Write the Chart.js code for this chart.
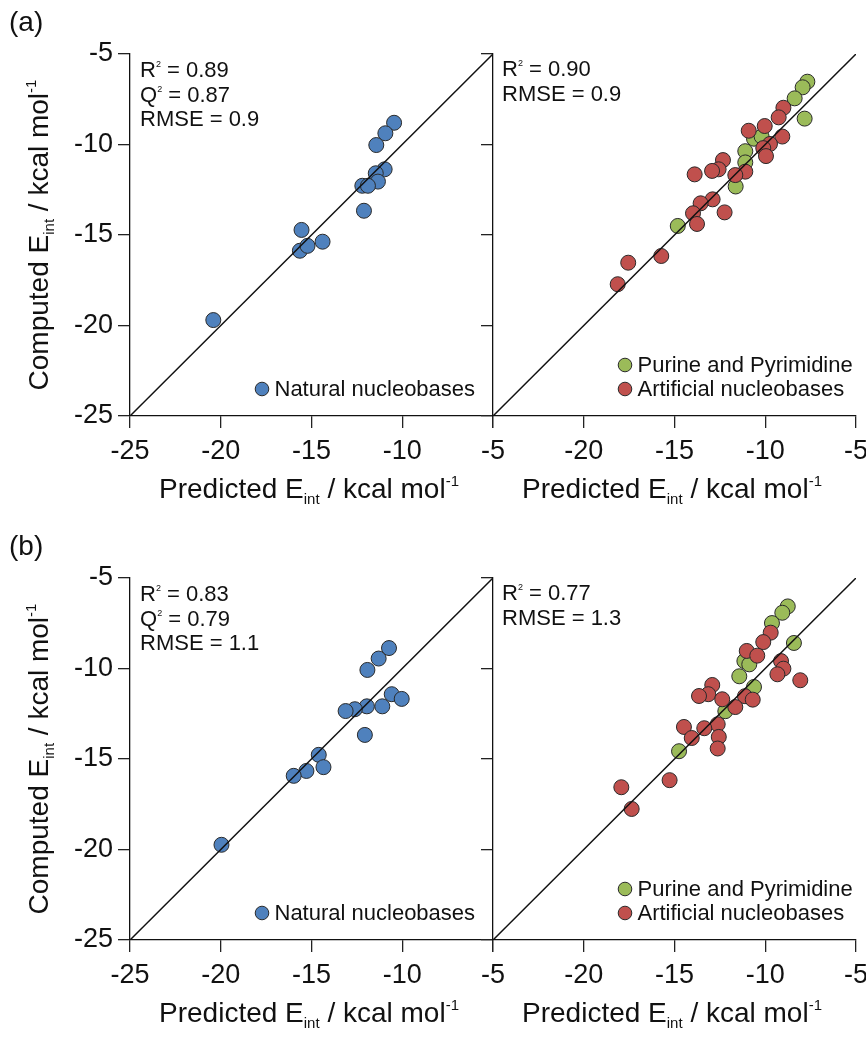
<!DOCTYPE html>
<html>
<head>
<meta charset="utf-8">
<script src="https://cdn.jsdelivr.net/npm/chart.js@4.4.0/dist/chart.umd.min.js"></script>
<style>
  html, body { margin: 0; padding: 0; background: #fff; }
  body { width: 866px; height: 1043px; position: relative; overflow: hidden;
         font-family: "Liberation Sans", Arial, sans-serif; color: #111; }
  canvas { position: absolute; left: 0; }
  .panel-tag { position: absolute; font-size: 28px; line-height: 32px; }
  .ytitle { position: absolute; font-size: 28px; line-height: 32px; white-space: nowrap;
            transform: translate(-50%, -50%) rotate(-90deg); }
  .xtitle { position: absolute; font-size: 28px; line-height: 32px; white-space: nowrap;
            transform: translateX(-50%); }
  .stats { position: absolute; font-size: 22px; line-height: 24.5px; white-space: nowrap; }
  .stats sup { font-size: 9px; line-height: 0; vertical-align: baseline; position: relative; top: -10px; }
  .ttl-sub { font-size: 15px; line-height: 0; vertical-align: baseline; position: relative; top: 6px; }
  .ttl-sup { font-size: 15px; line-height: 0; vertical-align: baseline; position: relative; top: -12px; }
</style>
</head>
<body>
<canvas id="aLeft" width="866" height="524" style="top:0"></canvas>
<canvas id="aRight" width="866" height="524" style="top:0"></canvas>
<canvas id="bLeft" width="866" height="524" style="top:524px"></canvas>
<canvas id="bRight" width="866" height="524" style="top:524px"></canvas>
<div id="texts"></div>
<script>
  // axis ticks, shared by all four panels
  var tickValues = [-25, -20, -15, -10, -5];

  // (a) natural nucleobases: predicted (x) vs computed (y)
  var aNatPred = [-10.45, -10.93, -11.43, -10.97, -11.46, -11.34, -12.20, -11.89, -12.11, -15.55, -15.64, -15.22, -14.39, -20.41];
  var aNatComp = [-8.80, -9.38, -10.03, -11.37, -11.59, -12.05, -12.28, -12.28, -13.66, -14.72, -15.87, -15.60, -15.37, -19.70];

  // (a) purine and pyrimidine
  var aPurPred = [-7.68, -7.94, -8.38, -7.83, -10.62, -10.20, -11.10, -11.10, -11.63, -14.82];
  var aPurComp = [-6.53, -6.84, -7.45, -8.57, -9.68, -9.56, -10.37, -10.99, -12.32, -14.50];

  // (a) artificial nucleobases
  var aArtPred = [-9.00, -9.26, -10.03, -10.91, -9.06, -9.74, -10.11, -9.96, -12.33, -12.57, -12.93, -13.89, -11.10, -11.65, -12.90, -13.56, -12.24, -13.98, -13.76, -15.73, -17.55, -18.13];
  var aArtComp = [-7.97, -8.50, -8.98, -9.24, -9.56, -9.97, -10.20, -10.64, -10.86, -11.37, -11.46, -11.65, -11.50, -11.69, -13.03, -13.25, -13.75, -13.80, -14.39, -16.16, -16.53, -17.72];

  // (b) natural nucleobases
  var bNatPred = [-10.73, -11.30, -11.92, -10.58, -10.03, -11.10, -11.95, -12.61, -13.12, -12.06, -14.60, -14.34, -15.28, -15.98, -19.96];
  var bNatComp = [-8.87, -9.45, -10.08, -11.42, -11.68, -12.09, -12.09, -12.25, -12.35, -13.67, -14.77, -15.45, -15.66, -15.93, -19.74];

  // (b) purine and pyrimidine
  var bPurPred = [-8.76, -9.06, -9.63, -8.42, -11.15, -10.88, -11.43, -10.62, -12.20, -14.75];
  var bPurComp = [-6.57, -6.92, -7.49, -8.59, -9.59, -9.77, -10.43, -11.02, -12.36, -14.57];

  // (b) artificial nucleobases
  var bArtPred = [-9.70, -10.11, -11.02, -10.44, -9.13, -9.00, -9.33, -8.07, -12.92, -13.14, -13.65, -12.37, -11.12, -10.69, -11.65, -12.62, -13.36, -14.48, -14.05, -12.56, -12.62, -15.27, -17.93, -17.36];
  var bArtComp = [-8.02, -8.54, -9.03, -9.29, -9.59, -10.01, -10.32, -10.65, -10.91, -11.42, -11.52, -11.70, -11.53, -11.72, -12.13, -13.08, -13.30, -13.23, -13.84, -13.78, -14.42, -16.17, -16.56, -17.76];

  // fit statistics printed in each panel
  var aLeftStats = ["R<sup>2</sup> = 0.89", "Q<sup>2</sup> = 0.87", "RMSE = 0.9"];
  var aRightStats = ["R<sup>2</sup> = 0.90", "RMSE = 0.9"];
  var bLeftStats = ["R<sup>2</sup> = 0.83", "Q<sup>2</sup> = 0.79", "RMSE = 1.1"];
  var bRightStats = ["R<sup>2</sup> = 0.77", "RMSE = 1.3"];

  var FONT = '"Liberation Sans", Arial, sans-serif';
  var BLUE = "#4f81bd", GREEN = "#9bbb59", RED = "#c0504d";

  function points(xs, ys) {
    return xs.map(function (x, i) { return { x: x, y: ys[i] }; });
  }

  function scatterSet(label, xs, ys, color) {
    return {
      type: "scatter",
      label: label,
      data: points(xs, ys),
      backgroundColor: color,
      borderColor: "#2a2a2a",
      borderWidth: 1,
      pointRadius: 7.5,
      pointHoverRadius: 7.5
    };
  }

  function identityLine() {
    var lo = tickValues[0], hi = tickValues[tickValues.length - 1];
    return {
      type: "line",
      label: "",
      data: [{ x: lo, y: lo }, { x: hi, y: hi }],
      borderColor: "#111",
      borderWidth: 1.5,
      pointRadius: 0,
      fill: false
    };
  }

  // legend drawn in the lower part of the plot area
  var cornerLegend = {
    id: "cornerLegend",
    afterDatasetsDraw: function (chart, args, opts) {
      var items = opts.items || [];
      var ctx = chart.ctx, a = chart.chartArea;
      ctx.save();
      ctx.font = "22px " + FONT;
      ctx.textBaseline = "middle";
      items.forEach(function (di, k) {
        var ds = chart.data.datasets[di];
        var cy = a.bottom - 27 - (items.length - 1 - k) * 24;
        var cx = a.left + 132;
        ctx.beginPath();
        ctx.arc(cx, cy, 6.8, 0, Math.PI * 2);
        ctx.fillStyle = ds.backgroundColor;
        ctx.fill();
        ctx.lineWidth = 1;
        ctx.strokeStyle = ds.borderColor;
        ctx.stroke();
        ctx.fillStyle = "#111";
        ctx.fillText(ds.label, cx + 12.5, cy + 1);
      });
      ctx.restore();
    }
  };

  function axis(pos, isLeftPanel) {
    var lo = tickValues[0], hi = tickValues[tickValues.length - 1];
    return {
      type: "linear",
      position: pos,
      min: lo,
      max: hi,
      afterBuildTicks: function (s) {
        s.ticks = tickValues.map(function (v) { return { value: v }; });
      },
      afterFit: function (s) {
        if (pos === "bottom") {
          s.height = 60;
          s.paddingLeft = 0;
          s.paddingRight = 0;
        } else {
          s.width = isLeftPanel ? 130 : 13;
          s.paddingTop = 0;
          s.paddingBottom = 0;
        }
      },
      grid: { drawOnChartArea: false, drawTicks: true, tickLength: 12, color: "#222", lineWidth: 1.3 },
      border: { display: true, color: "#111", width: 1.3 },
      ticks: {
        autoSkip: false,
        maxRotation: 0,
        padding: pos === "bottom" ? 7 : 5,
        color: "#111",
        font: { family: FONT, size: 27 },
        callback: function (v) {
          if (pos === "left" && !isLeftPanel) return "";
          if (pos === "bottom" && !isLeftPanel && v === lo) return "";
          return String(v);
        }
      }
    };
  }

  function makePanel(id, isLeftPanel, datasets, legendItems) {
    var pad = isLeftPanel
      ? { left: 0, right: 866 - 493, top: 54, bottom: 48 }
      : { left: 493 - 13, right: 10, top: 54, bottom: 48 };
    return new Chart(document.getElementById(id), {
      type: "scatter",
      data: { datasets: datasets },
      options: {
        responsive: false,
        animation: false,
        events: [],
        layout: { padding: pad },
        plugins: {
          legend: { display: false },
          tooltip: { enabled: false },
          cornerLegend: { items: legendItems }
        },
        scales: { x: axis("bottom", isLeftPanel), y: axis("left", isLeftPanel) }
      },
      plugins: [cornerLegend]
    });
  }

  makePanel("aLeft", true, [
    identityLine(),
    scatterSet("Natural nucleobases", aNatPred, aNatComp, BLUE)
  ], [1]);

  makePanel("aRight", false, [
    identityLine(),
    scatterSet("Artificial nucleobases", aArtPred, aArtComp, RED),
    scatterSet("Purine and Pyrimidine", aPurPred, aPurComp, GREEN)
  ], [2, 1]);

  makePanel("bLeft", true, [
    identityLine(),
    scatterSet("Natural nucleobases", bNatPred, bNatComp, BLUE)
  ], [1]);

  makePanel("bRight", false, [
    identityLine(),
    scatterSet("Artificial nucleobases", bArtPred, bArtComp, RED),
    scatterSet("Purine and Pyrimidine", bPurPred, bPurComp, GREEN)
  ], [2, 1]);

  // text around the plots
  var host = document.getElementById("texts");
  function addDiv(cls, html, left, top) {
    var d = document.createElement("div");
    d.className = cls;
    d.innerHTML = html;
    d.style.left = left + "px";
    d.style.top = top + "px";
    host.appendChild(d);
  }
  var yTitle = 'Computed E<span class="ttl-sub">int</span> / kcal mol<span class="ttl-sup">-1</span>';
  var xTitle = 'Predicted E<span class="ttl-sub">int</span> / kcal mol<span class="ttl-sup">-1</span>';

  [0, 524].forEach(function (off, row) {
    addDiv("panel-tag", row === 0 ? "(a)" : "(b)", 9, 6 + off);
    addDiv("ytitle", yTitle, 39, 235 + off);
    addDiv("xtitle", xTitle, 309, 473 + off);
    addDiv("xtitle", xTitle, 672, 473 + off);
  });
  addDiv("stats", aLeftStats.join("<br>"), 140, 58);
  addDiv("stats", aRightStats.join("<br>"), 502, 57);
  addDiv("stats", bLeftStats.join("<br>"), 140, 58 + 524);
  addDiv("stats", bRightStats.join("<br>"), 502, 57 + 524);
</script>
</body>
</html>
